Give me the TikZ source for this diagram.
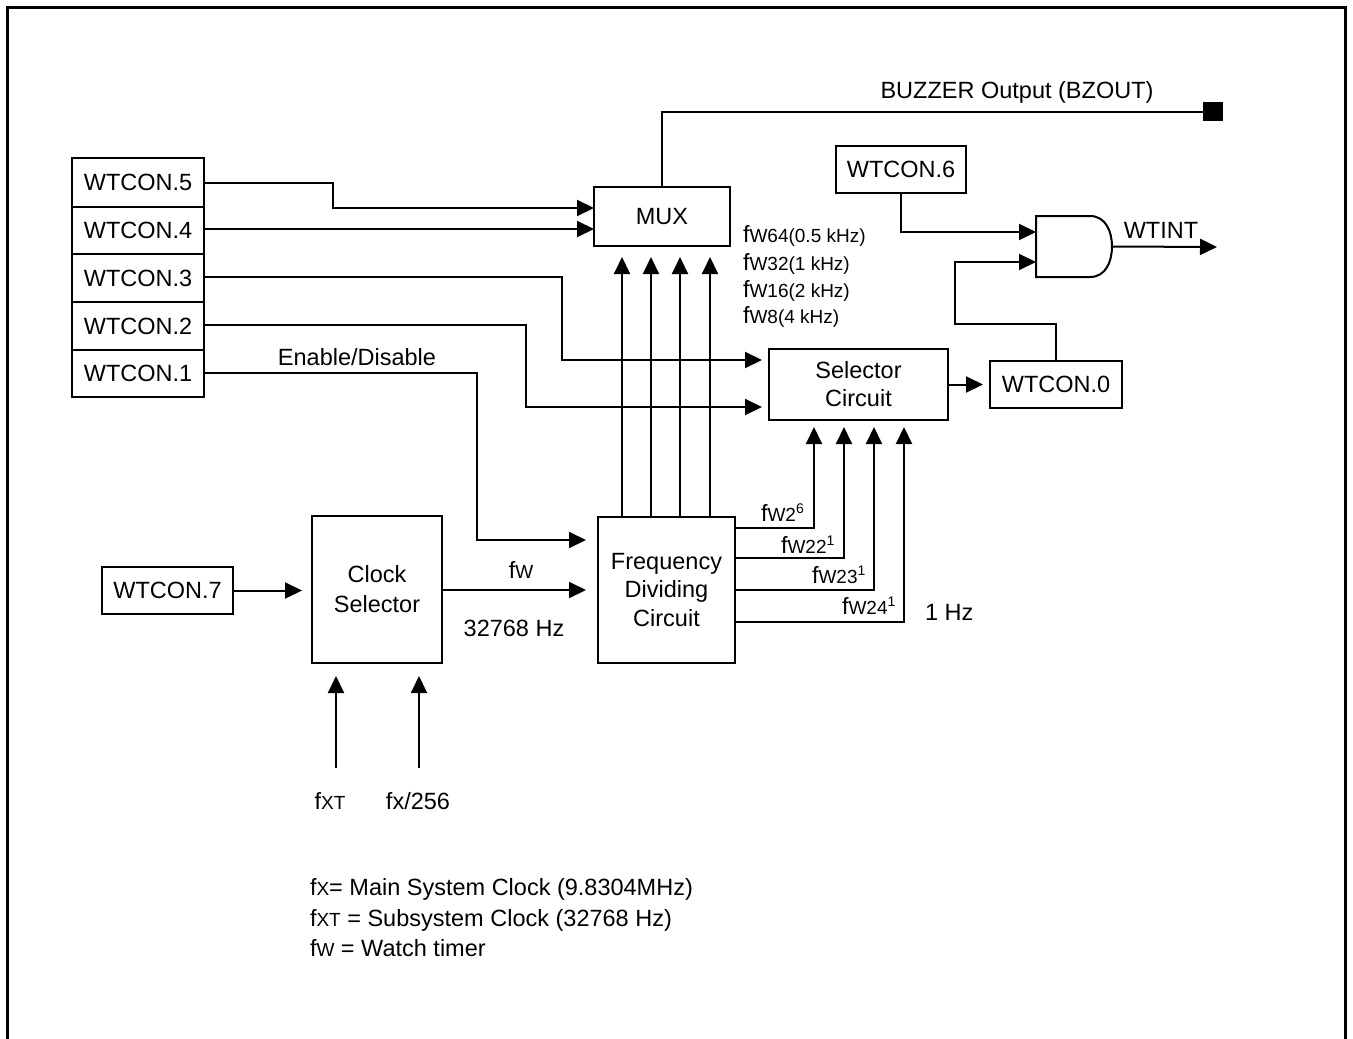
\documentclass[tikz,border=0pt]{standalone}
\usepackage{fontspec}
\setmainfont{Liberation Sans}
\usetikzlibrary{arrows.meta}
\newcommand\mainf{\fontsize{23.5}{28}\selectfont}
\newcommand\smf{\fontsize{19}{21}\selectfont}
\newcommand\supf{\fontsize{14}{15}\selectfont}
\newcommand\supx[1]{\raisebox{8pt}{\supf #1}}
\begin{document}
\begin{tikzpicture}[x=1pt,y=-1pt,line width=2pt,font=\mainf,
  box/.style={draw,line width=2pt,inner sep=0pt,outer sep=0pt,align=center},
  arr/.style={-{Triangle[length=17pt,width=16pt]}},
  lbl/.style={inner sep=0pt,outer sep=0pt}]
\useasboundingbox (0,0) rectangle (1353,1039);
% frame
\draw[line width=3pt] (7.5,1039) -- (7.5,7.5) -- (1345.5,7.5) -- (1345.5,1039);
% register stack
\node[box,minimum width=132pt,minimum height=49pt] (w5) at (138,182.5) {WTCON.5};
\node[box,minimum width=132pt,minimum height=47pt] (w4) at (138,230.5) {WTCON.4};
\node[box,minimum width=132pt,minimum height=48pt] (w3) at (138,278) {WTCON.3};
\node[box,minimum width=132pt,minimum height=48pt] (w2) at (138,326) {WTCON.2};
\node[box,minimum width=132pt,minimum height=47pt] (w1) at (138,373.5) {WTCON.1};
% blocks
\node[box,minimum width=136pt,minimum height=59pt] (mux) at (662,216.5) {MUX};
\node[box,minimum width=137pt,minimum height=146pt,font=\fontsize{23.5}{28.5}\selectfont] (fdc) at (666.5,590) {Frequency\\Dividing\\Circuit};
\node[box,minimum width=130pt,minimum height=147pt,font=\fontsize{23.5}{30}\selectfont] (cs) at (377,589.5) {Clock\\Selector};
\node[box,minimum width=131pt,minimum height=47pt] (w7) at (167.5,590.5) {WTCON.7};
\node[box,minimum width=179pt,minimum height=71pt,font=\fontsize{23.5}{28}\selectfont] (sel) at (858.5,384.5) {Selector\\Circuit};
\node[box,minimum width=132pt,minimum height=47pt] (w0) at (1056,384.5) {WTCON.0};
\node[box,minimum width=130pt,minimum height=47pt] (w6) at (901,169.5) {WTCON.6};
% AND gate
\node[inner sep=0pt,outer sep=0pt,minimum width=76pt,minimum height=61pt] (andg) at (1074,246.5) {};
\draw (andg.north west) -- (1090,216) .. controls (1106,216) and (1112,232) .. (1112,246.5)
  .. controls (1112,261) and (1106,277) .. (1090,277) -- (andg.south west) -- cycle;
% buzzer output
\node[fill,inner sep=0pt,outer sep=0pt,minimum width=20pt,minimum height=19pt] (bz) at (1213,111.5) {};
\draw (mux.north) |- (bz.west);
\node[lbl] (bzl) at (1017,92) {BUZZER Output (BZOUT)};
% register wires
\draw[arr] (w5.east) -| (333,208) -- (mux.west |- 0,208);
\draw[arr] (w4.east |- 0,229) -- (mux.west |- 0,229);
\draw[arr,shorten >=7pt] (w3.east |- 0,277) -| (562,360) -- (sel.west |- 0,360);
\draw[arr,shorten >=7pt] (w2.east |- 0,325) -| (526,407) -- (sel.west |- 0,407);
\draw[arr,shorten >=12pt] (w1.east |- 0,373) -| (477,540) -- (fdc.west |- 0,540);
\node[lbl] (ena) at (357,357) {Enable/Disable};
% divider to MUX
\foreach \xx in {622,651,680,710}
  \draw[arr,shorten >=11pt] (fdc.north -| \xx,0) -- (mux.south -| \xx,0);
\node[lbl,anchor=base west] (l64) at (743,242) {f{\smf W64(0.5 kHz)}};
\node[lbl,anchor=base west] (l32) at (743,270) {f{\smf W32(1 kHz)}};
\node[lbl,anchor=base west] (l16) at (743,297) {f{\smf W16(2 kHz)}};
\node[lbl,anchor=base west] (l8) at (743,323) {f{\smf W8(4 kHz)}};
% divider to selector
\draw[arr,shorten >=7pt] (fdc.east |- 0,528) -| (sel.south -| 814,0);
\draw[arr,shorten >=7pt] (fdc.east |- 0,558) -| (sel.south -| 844,0);
\draw[arr,shorten >=7pt] (fdc.east |- 0,590) -| (sel.south -| 874,0);
\draw[arr,shorten >=7pt] (fdc.east |- 0,622) -| (sel.south -| 904,0);
\node[lbl,anchor=base west] (s6) at (761,521) {f{\smf W2}\supx{6}};
\node[lbl,anchor=base west] (s1) at (781,553) {f{\smf W22}\supx{1}};
\node[lbl,anchor=base west] (s2) at (812,583) {f{\smf W23}\supx{1}};
\node[lbl,anchor=base west] (s3) at (842,614) {f{\smf W24}\supx{1}};
\node[lbl,anchor=base west] (hz1) at (925,620) {1 Hz};
% clock selector
\draw[arr,shorten >=10pt] (w7.east) -- (cs.west |- w7.east);
\draw[arr,shorten >=12pt] (cs.east |- 0,590) -- (fdc.west |- 0,590);
\node[lbl] (fwl) at (521,570) {f{\smf W}};
\node[lbl] (hz) at (514,628) {32768 Hz};
\coordinate (fxt) at (336,768);
\coordinate (fx) at (419,768);
\draw[arr,shorten >=13pt] (fxt) -- (cs.south -| fxt);
\draw[arr,shorten >=13pt] (fx) -- (cs.south -| fx);
\node[lbl] (fxtl) at (330,801) {f{\smf XT}};
\node[lbl] (fxl) at (418,801) {fx/256};
% selector, interrupt
\draw[arr,shorten >=7pt] (sel.east) -- (w0.west);
\draw[arr] (w6.south) |- (andg.west |- 0,232);
\draw[arr] (w0.north) -- (1056,324) -| (955,262) -- (andg.west |- 0,262);
\coordinate (wtint) at (1217,247);
\draw[arr] (andg.east) -- (wtint);
\node[lbl] (wtl) at (1161,230) {WTINT};
% legend
\node[lbl,anchor=base west] (lg1) at (310,895) {f{\smf X}= Main System Clock (9.8304MHz)};
\node[lbl,anchor=base west] (lg2) at (310,926) {f{\smf XT} = Subsystem Clock (32768 Hz)};
\node[lbl,anchor=base west] (lg3) at (310,956) {f{\smf W} = Watch timer};
\end{tikzpicture}
\end{document}
